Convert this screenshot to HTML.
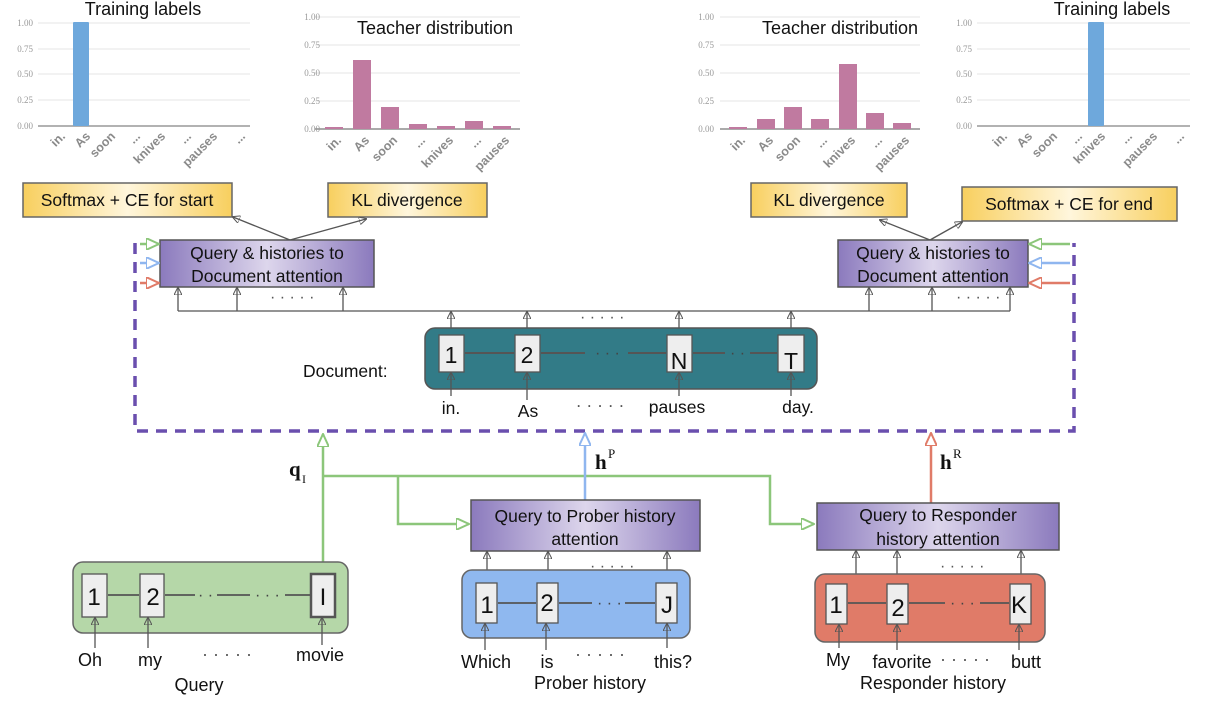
<!DOCTYPE html>
<html><head><meta charset="utf-8"><style>
html,body{margin:0;padding:0;background:#fff}
svg{display:block;font-family:"Liberation Sans",sans-serif}
</style></head><body>
<svg width="1230" height="724" viewBox="0 0 1230 724" xmlns="http://www.w3.org/2000/svg">
<defs>
<linearGradient id="pg" x1="0" x2="1" y1="0" y2="0"><stop offset="0" stop-color="#8b7abd"/><stop offset="0.5" stop-color="#ddd6ec"/><stop offset="1" stop-color="#8b7abd"/></linearGradient>
<linearGradient id="yg" x1="0" x2="1" y1="0" y2="0"><stop offset="0" stop-color="#f8cf5e"/><stop offset="0.5" stop-color="#fff6dc"/><stop offset="1" stop-color="#f8cf5e"/></linearGradient>
<marker id="ag" markerWidth="8" markerHeight="8" refX="7" refY="4" orient="auto" markerUnits="userSpaceOnUse"><path d="M0,0 L8,4 L0,8 Z" fill="none" stroke="#555" stroke-width="1"/></marker>
<marker id="agr" markerWidth="14" markerHeight="12" refX="13" refY="6" orient="auto" markerUnits="userSpaceOnUse"><path d="M0,0 L13,6 L0,12 Z" fill="#fff" stroke="#8cc67a" stroke-width="2"/></marker>
<marker id="abl" markerWidth="14" markerHeight="12" refX="13" refY="6" orient="auto" markerUnits="userSpaceOnUse"><path d="M0,0 L13,6 L0,12 Z" fill="#fff" stroke="#8fb6ef" stroke-width="2"/></marker>
<marker id="ard" markerWidth="14" markerHeight="12" refX="13" refY="6" orient="auto" markerUnits="userSpaceOnUse"><path d="M0,0 L13,6 L0,12 Z" fill="#fff" stroke="#e07b68" stroke-width="2"/></marker>
</defs>

<!-- Charts -->
<g font-family="Liberation Serif,serif" font-size="9" fill="#999" text-anchor="end">
<g stroke="#e4e4e4"><line x1="38" x2="250" y1="23" y2="23"/><line x1="38" x2="250" y1="49" y2="49"/><line x1="38" x2="250" y1="74" y2="74"/><line x1="38" x2="250" y1="100" y2="100"/></g>
<line x1="38" x2="250" y1="126" y2="126" stroke="#999" stroke-width="1.5"/>
<text x="33" y="26">1.00</text><text x="33" y="52">0.75</text><text x="33" y="77">0.50</text><text x="33" y="103">0.25</text><text x="33" y="129">0.00</text>
<rect x="73" y="22" width="16" height="104" fill="#6ea8dc" rx="1"/>
<g stroke="#e4e4e4"><line x1="315" x2="520" y1="17" y2="17"/><line x1="315" x2="520" y1="45" y2="45"/><line x1="315" x2="520" y1="73" y2="73"/><line x1="315" x2="520" y1="101" y2="101"/></g>
<line x1="315" x2="520" y1="129" y2="129" stroke="#777" stroke-width="1.2"/>
<text x="320" y="20">1.00</text><text x="320" y="48">0.75</text><text x="320" y="76">0.50</text><text x="320" y="104">0.25</text><text x="320" y="132">0.00</text>
<g fill="#c07aa0"><rect x="325" y="127" width="18" height="2"/><rect x="353" y="60" width="18" height="69"/><rect x="381" y="107" width="18" height="22"/><rect x="409" y="124" width="18" height="5"/><rect x="437" y="126" width="18" height="3"/><rect x="465" y="121" width="18" height="8"/><rect x="493" y="126" width="18" height="3"/></g>
<g stroke="#e4e4e4"><line x1="720" x2="920" y1="17" y2="17"/><line x1="720" x2="920" y1="45" y2="45"/><line x1="720" x2="920" y1="73" y2="73"/><line x1="720" x2="920" y1="101" y2="101"/></g>
<line x1="720" x2="920" y1="129" y2="129" stroke="#777" stroke-width="1.2"/>
<text x="714" y="20">1.00</text><text x="714" y="48">0.75</text><text x="714" y="76">0.50</text><text x="714" y="104">0.25</text><text x="714" y="132">0.00</text>
<g fill="#c07aa0"><rect x="729" y="127" width="18" height="2"/><rect x="757" y="119" width="18" height="10"/><rect x="784" y="107" width="18" height="22"/><rect x="811" y="119" width="18" height="10"/><rect x="839" y="64" width="18" height="65"/><rect x="866" y="113" width="18" height="16"/><rect x="893" y="123" width="18" height="6"/></g>
<g stroke="#e4e4e4"><line x1="977" x2="1190" y1="23" y2="23"/><line x1="977" x2="1190" y1="49" y2="49"/><line x1="977" x2="1190" y1="74" y2="74"/><line x1="977" x2="1190" y1="100" y2="100"/></g>
<line x1="977" x2="1190" y1="126" y2="126" stroke="#999" stroke-width="1.5"/>
<text x="972" y="26">1.00</text><text x="972" y="52">0.75</text><text x="972" y="77">0.50</text><text x="972" y="103">0.25</text><text x="972" y="129">0.00</text>
<rect x="1088" y="22" width="16" height="104" fill="#6ea8dc" rx="1"/>
</g>
<g font-size="12.5" fill="#8a8a8a" font-weight="bold" text-anchor="end">
<text transform="translate(66,137) rotate(-45)">in.</text><text transform="translate(91,137) rotate(-45)">As</text><text transform="translate(116,137) rotate(-45)">soon</text><text transform="translate(141,137) rotate(-45)">...</text><text transform="translate(166,137) rotate(-45)">knives</text><text transform="translate(192,137) rotate(-45)">...</text><text transform="translate(218,137) rotate(-45)">pauses</text><text transform="translate(246,137) rotate(-45)">...</text>
<text transform="translate(342,141) rotate(-45)">in.</text><text transform="translate(370,141) rotate(-45)">As</text><text transform="translate(398,141) rotate(-45)">soon</text><text transform="translate(426,141) rotate(-45)">...</text><text transform="translate(454,141) rotate(-45)">knives</text><text transform="translate(482,141) rotate(-45)">...</text><text transform="translate(510,141) rotate(-45)">pauses</text>
<text transform="translate(746,141) rotate(-45)">in.</text><text transform="translate(774,141) rotate(-45)">As</text><text transform="translate(801,141) rotate(-45)">soon</text><text transform="translate(828,141) rotate(-45)">...</text><text transform="translate(856,141) rotate(-45)">knives</text><text transform="translate(883,141) rotate(-45)">...</text><text transform="translate(910,141) rotate(-45)">pauses</text>
<text transform="translate(1008,137) rotate(-45)">in.</text><text transform="translate(1033,137) rotate(-45)">As</text><text transform="translate(1058,137) rotate(-45)">soon</text><text transform="translate(1083,137) rotate(-45)">...</text><text transform="translate(1106,137) rotate(-45)">knives</text><text transform="translate(1133,137) rotate(-45)">...</text><text transform="translate(1158,137) rotate(-45)">pauses</text><text transform="translate(1185,137) rotate(-45)">...</text>
</g>
<g font-size="18" fill="#111" text-anchor="middle">
<text x="143" y="15">Training labels</text><text x="435" y="34">Teacher distribution</text>
<text x="840" y="34">Teacher distribution</text><text x="1112" y="15">Training labels</text>
</g>

<!-- yellow boxes -->
<g stroke="#666" stroke-width="1.5" fill="url(#yg)">
<rect x="23" y="183" width="209" height="34"/><rect x="328" y="183" width="159" height="34"/>
<rect x="751" y="183" width="156" height="34"/><rect x="962" y="187" width="215" height="34"/>
</g>
<g font-size="17.5" fill="#111" text-anchor="middle">
<text x="127" y="206">Softmax + CE for start</text><text x="407" y="206">KL divergence</text>
<text x="829" y="206">KL divergence</text><text x="1069" y="210">Softmax + CE for end</text>
</g>
<g stroke="#555" stroke-width="1.3" fill="none" marker-end="url(#ag)">
<line x1="290" y1="240" x2="233" y2="217"/><line x1="290" y1="240" x2="366" y2="219"/>
<line x1="930" y1="240" x2="880" y2="220"/><line x1="930" y1="240" x2="962" y2="222"/>
</g>

<path d="M135,243 L135,431 L1074,431 L1074,243" fill="none" stroke="#6a4fae" stroke-width="3.5" stroke-dasharray="11,8"/>

<g stroke="#555" stroke-width="1.5" fill="url(#pg)">
<rect x="160" y="240" width="214" height="47"/><rect x="838" y="240" width="190" height="47"/>
</g>
<g font-size="17.5" fill="#111" text-anchor="middle">
<text x="267" y="259">Query &amp; histories to</text><text x="267" y="282">Document attention</text>
<text x="933" y="259">Query &amp; histories to</text><text x="933" y="282">Document attention</text>
</g>
<g stroke-width="2.5" fill="none">
<line x1="140" y1="244" x2="159" y2="244" stroke="#8cc67a" marker-end="url(#agr)"/>
<line x1="140" y1="263" x2="159" y2="263" stroke="#8fb6ef" marker-end="url(#abl)"/>
<line x1="140" y1="283" x2="159" y2="283" stroke="#e07b68" marker-end="url(#ard)"/>
<line x1="1070" y1="244" x2="1029" y2="244" stroke="#8cc67a" marker-end="url(#agr)"/>
<line x1="1070" y1="263" x2="1029" y2="263" stroke="#8fb6ef" marker-end="url(#abl)"/>
<line x1="1070" y1="283" x2="1029" y2="283" stroke="#e07b68" marker-end="url(#ard)"/>
</g>

<line x1="178" y1="311" x2="1010" y2="311" stroke="#555" stroke-width="1.3"/>
<g stroke="#555" stroke-width="1.3" marker-end="url(#ag)">
<line x1="178" y1="311" x2="178" y2="288"/><line x1="237" y1="311" x2="237" y2="288"/><line x1="343" y1="311" x2="343" y2="288"/>
<line x1="869" y1="311" x2="869" y2="288"/><line x1="932" y1="311" x2="932" y2="288"/><line x1="1010" y1="311" x2="1010" y2="288"/>
<line x1="451" y1="335" x2="451" y2="312"/><line x1="527" y1="335" x2="527" y2="312"/><line x1="679" y1="335" x2="679" y2="312"/><line x1="791" y1="335" x2="791" y2="312"/>
</g>
<g font-size="16" fill="#555"><text x="270" y="302">· · · · ·</text><text x="956" y="302">· · · · ·</text><text x="580" y="322">· · · · ·</text></g>

<text x="303" y="377" font-size="17.5" fill="#111">Document:</text>
<rect x="425" y="328" width="392" height="61" rx="10" fill="#327b87" stroke="#555" stroke-width="1.5"/>
<g fill="#eee" stroke="#555" stroke-width="1.3">
<rect x="439" y="335" width="25" height="37"/><rect x="515" y="335" width="25" height="37"/><rect x="667" y="335" width="25" height="37"/><rect x="778" y="335" width="26" height="37"/>
</g>
<g font-size="23" fill="#111" text-anchor="middle"><text x="451" y="363">1</text><text x="527" y="363">2</text><text x="679" y="369">N</text><text x="791" y="369">T</text></g>
<g stroke="#555" stroke-width="2"><line x1="465" y1="353" x2="514" y2="353"/><line x1="541" y1="353" x2="585" y2="353"/><line x1="628" y1="353" x2="666" y2="353"/><line x1="693" y1="353" x2="725" y2="353"/><line x1="750" y1="353" x2="777" y2="353"/></g>
<g font-size="16" fill="#444"><text x="595" y="358">· · ·</text><text x="730" y="358">· ·</text></g>
<g stroke="#555" stroke-width="1.3" marker-end="url(#ag)">
<line x1="451" y1="396" x2="451" y2="373"/><line x1="527" y1="400" x2="527" y2="373"/><line x1="679" y1="396" x2="679" y2="373"/><line x1="791" y1="396" x2="791" y2="373"/>
</g>
<g font-size="17.5" fill="#111" text-anchor="middle"><text x="451" y="414">in.</text><text x="528" y="417">As</text><text x="600" y="411" fill="#555">· · · · ·</text><text x="677" y="413">pauses</text><text x="798" y="413">day.</text></g>

<g stroke="#8cc67a" stroke-width="2.5" fill="none">
<line x1="323" y1="572" x2="323" y2="434" marker-end="url(#agr)"/>
<polyline points="323,476 770,476 770,524 814,524" marker-end="url(#agr)"/>
<polyline points="398,476 398,524 469,524" marker-end="url(#agr)"/>
</g>
<line x1="585" y1="500" x2="585" y2="433" stroke="#8fb6ef" stroke-width="2.5" marker-end="url(#abl)"/>
<line x1="931" y1="503" x2="931" y2="433" stroke="#e07b68" stroke-width="2.5" marker-end="url(#ard)"/>
<g font-family="Liberation Serif,serif" fill="#111">
<text x="289" y="476" font-size="21" font-weight="bold">q</text><text x="302" y="483" font-size="12">I</text>
<text x="595" y="469" font-size="21" font-weight="bold">h</text><text x="608" y="458" font-size="13">P</text>
<text x="940" y="469" font-size="21" font-weight="bold">h</text><text x="953" y="458" font-size="13">R</text>
</g>

<g stroke="#555" stroke-width="1.5" fill="url(#pg)">
<rect x="471" y="500" width="229" height="51"/><rect x="817" y="503" width="242" height="47"/>
</g>
<g font-size="17.5" fill="#111" text-anchor="middle">
<text x="585" y="522">Query to Prober history</text><text x="585" y="545">attention</text>
<text x="938" y="521">Query to Responder</text><text x="938" y="545">history attention</text>
</g>

<rect x="73" y="562" width="275" height="71" rx="10" fill="#b5d7a8" stroke="#666" stroke-width="1.5"/>
<g fill="#eee" stroke="#555" stroke-width="1.3">
<rect x="82" y="574" width="25" height="43"/><rect x="140" y="574" width="24" height="43"/><rect x="311" y="574" width="24" height="43" stroke-width="2.5"/>
</g>
<g font-size="24" fill="#111" text-anchor="middle"><text x="94" y="605">1</text><text x="153" y="605">2</text><text x="323" y="605">I</text></g>
<g stroke="#555" stroke-width="1.8"><line x1="108" y1="595" x2="139" y2="595"/><line x1="165" y1="595" x2="195" y2="595"/><line x1="217" y1="595" x2="250" y2="595"/><line x1="285" y1="595" x2="310" y2="595"/></g>
<g font-size="16" fill="#444"><text x="198" y="600">· ·</text><text x="255" y="600">· · ·</text></g>
<g stroke="#555" stroke-width="1.3" marker-end="url(#ag)">
<line x1="95" y1="648" x2="95" y2="618"/><line x1="148" y1="648" x2="148" y2="618"/><line x1="322" y1="645" x2="322" y2="618"/>
</g>
<g font-size="18" fill="#111" text-anchor="middle"><text x="90" y="666">Oh</text><text x="150" y="666">my</text><text x="227" y="660" fill="#555">· · · · ·</text><text x="320" y="661">movie</text><text x="199" y="691">Query</text></g>

<g stroke="#555" stroke-width="1.3" marker-end="url(#ag)">
<line x1="487" y1="583" x2="487" y2="552"/><line x1="548" y1="583" x2="548" y2="552"/><line x1="667" y1="583" x2="667" y2="552"/>
<line x1="856" y1="585" x2="856" y2="551"/><line x1="897" y1="585" x2="897" y2="551"/><line x1="1021" y1="585" x2="1021" y2="551"/>
</g>
<g font-size="16" fill="#555"><text x="590" y="571">· · · · ·</text><text x="940" y="571">· · · · ·</text></g>
<rect x="462" y="570" width="228" height="68" rx="10" fill="#8fb8ef" stroke="#666" stroke-width="1.5"/>
<g fill="#eee" stroke="#555" stroke-width="1.3">
<rect x="476" y="583" width="21" height="40"/><rect x="537" y="583" width="21" height="40"/><rect x="656" y="583" width="21" height="40"/>
</g>
<g font-size="24" fill="#111" text-anchor="middle"><text x="487" y="613">1</text><text x="547" y="611">2</text><text x="667" y="613">J</text></g>
<g stroke="#555" stroke-width="1.8"><line x1="498" y1="603" x2="536" y2="603"/><line x1="559" y1="603" x2="592" y2="603"/><line x1="625" y1="603" x2="655" y2="603"/></g>
<g font-size="16" fill="#444"><text x="597" y="608">· · ·</text></g>
<g stroke="#555" stroke-width="1.3" marker-end="url(#ag)">
<line x1="485" y1="650" x2="485" y2="624"/><line x1="546" y1="650" x2="546" y2="624"/><line x1="667" y1="648" x2="667" y2="624"/>
</g>
<g font-size="18" fill="#111" text-anchor="middle"><text x="486" y="668">Which</text><text x="547" y="668">is</text><text x="600" y="660" fill="#555">· · · · ·</text><text x="673" y="668">this?</text><text x="590" y="689">Prober history</text></g>

<rect x="815" y="574" width="230" height="68" rx="10" fill="#e07b68" stroke="#666" stroke-width="1.5"/>
<g fill="#eee" stroke="#555" stroke-width="1.3">
<rect x="826" y="584" width="21" height="40"/><rect x="887" y="584" width="21" height="40"/><rect x="1010" y="584" width="21" height="40"/>
</g>
<g font-size="24" fill="#111" text-anchor="middle"><text x="836" y="613">1</text><text x="898" y="616">2</text><text x="1019" y="613">K</text></g>
<g stroke="#555" stroke-width="1.8"><line x1="848" y1="603" x2="886" y2="603"/><line x1="909" y1="603" x2="945" y2="603"/><line x1="980" y1="603" x2="1009" y2="603"/></g>
<g font-size="16" fill="#444"><text x="950" y="608">· · ·</text></g>
<g stroke="#555" stroke-width="1.3" marker-end="url(#ag)">
<line x1="839" y1="648" x2="839" y2="625"/><line x1="897" y1="650" x2="897" y2="625"/><line x1="1019" y1="650" x2="1019" y2="625"/>
</g>
<g font-size="18" fill="#111" text-anchor="middle"><text x="838" y="666">My</text><text x="902" y="668">favorite</text><text x="965" y="665" fill="#555">· · · · ·</text><text x="1026" y="668">butt</text><text x="933" y="689">Responder history</text></g>
</svg>
</body></html>
